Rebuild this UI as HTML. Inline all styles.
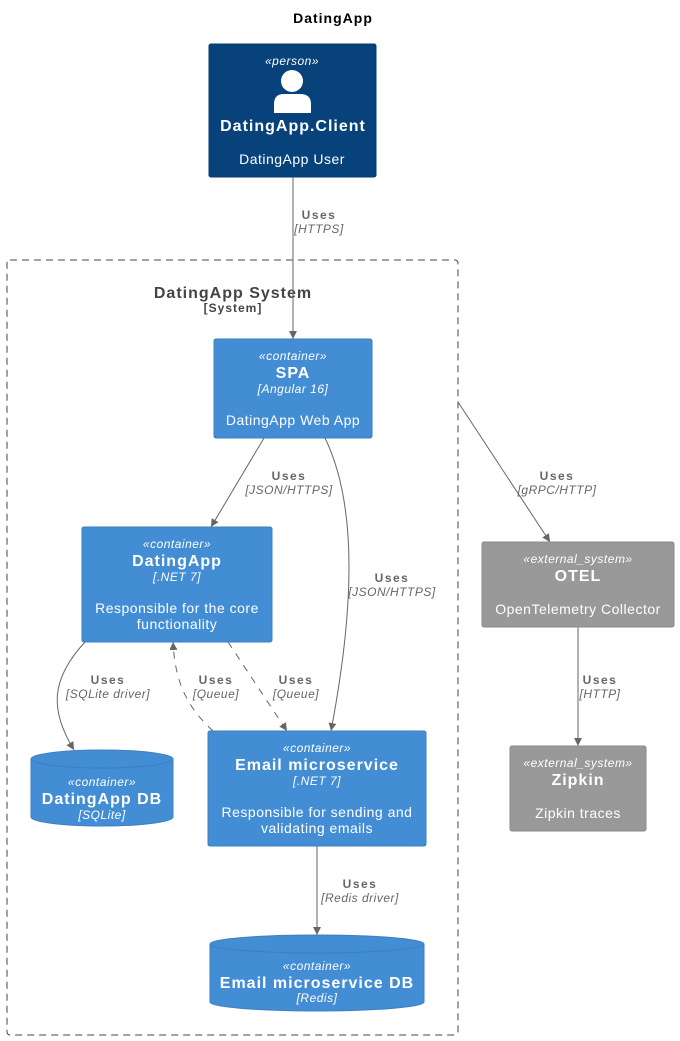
<!DOCTYPE html>
<html><head><meta charset="utf-8"><style>
html,body{margin:0;padding:0;background:#fff;width:680px;height:1041px;overflow:hidden}
svg{display:block}
text{font-family:"Liberation Sans",sans-serif;text-anchor:middle;letter-spacing:0.5px}
.w{fill:#fff}
.st{font-size:12px;font-style:italic}
.nm{font-size:16px;font-weight:bold;letter-spacing:1px}
.ds{font-size:14px}
.lb{font-size:12px;font-weight:bold;fill:#666;letter-spacing:1.5px}
.lt{font-size:12px;font-style:italic;fill:#666}
.e{stroke:#666;stroke-width:1;fill:none}
.d{stroke-dasharray:7,7}
</style></head><body>
<svg width="680" height="1041" viewBox="0 0 680 1041">
<defs><marker id="a" viewBox="0 0 10 10" refX="10" refY="5" markerWidth="8" markerHeight="10" orient="auto" markerUnits="userSpaceOnUse"><path d="M0,0 L10,5 L0,10 z" fill="#666"/></marker></defs>
<text x="333" y="23" style="font-size:14px;font-weight:bold;letter-spacing:1px">DatingApp</text>

<rect x="7" y="260" width="451" height="775" rx="3" fill="none" stroke="#444" stroke-dasharray="7,5"/>
<text x="233" y="298" style="font-size:16px;font-weight:bold;fill:#444;letter-spacing:1px">DatingApp System</text>
<text x="233" y="312" style="font-size:12px;font-weight:bold;fill:#444;letter-spacing:1px">[System]</text>

<!-- edges -->
<path class="e" d="M293,177 L293,339" marker-end="url(#a)"/>
<text class="lb" x="319" y="219">Uses</text><text class="lt" x="319" y="233">[HTTPS]</text>
<path class="e" d="M264,438 L211,527" marker-end="url(#a)"/>
<text class="lb" x="289" y="480">Uses</text><text class="lt" x="289" y="494">[JSON/HTTPS]</text>
<path class="e" d="M325,438 C360,510 352,620 331,731" marker-end="url(#a)"/>
<text class="lb" x="392" y="582">Uses</text><text class="lt" x="392" y="596">[JSON/HTTPS]</text>
<path class="e" d="M458,402 L550,542" marker-end="url(#a)"/>
<text class="lb" x="557" y="480">Uses</text><text class="lt" x="557" y="494">[gRPC/HTTP]</text>
<path class="e" d="M578,627 L578,746" marker-end="url(#a)"/>
<text class="lb" x="600" y="684">Uses</text><text class="lt" x="600" y="698">[HTTP]</text>
<path class="e" d="M85,642 C50,680 50,710 74,750" marker-end="url(#a)"/>
<text class="lb" x="108" y="684">Uses</text><text class="lt" x="108" y="698">[SQLite driver]</text>
<path class="e d" d="M213,731 C185,705 175,680 173,642" marker-end="url(#a)"/>
<text class="lb" x="216" y="684">Uses</text><text class="lt" x="216" y="698">[Queue]</text>
<path class="e d" d="M228,642 L287,731" marker-end="url(#a)"/>
<text class="lb" x="296" y="684">Uses</text><text class="lt" x="296" y="698">[Queue]</text>
<path class="e" d="M317,846 L317,935" marker-end="url(#a)"/>
<text class="lb" x="360" y="888">Uses</text><text class="lt" x="360" y="902">[Redis driver]</text>

<!-- person -->
<rect x="209" y="44" width="167" height="133" rx="2" fill="#08427b" stroke="#073b6f"/>
<text class="w st" x="292" y="65">«person»</text>
<circle cx="292" cy="81" r="11" fill="#fff"/>
<path d="M274,113 L274,104 Q274,94 284,94 L300,94 Q311,94 311,104 L311,113 Z" fill="#fff"/>
<text class="w nm" x="293" y="131">DatingApp.Client</text>
<text class="w ds" x="292" y="164">DatingApp User</text>

<!-- SPA -->
<rect x="214" y="339" width="158" height="99" rx="2" fill="#438dd5" stroke="#3c7fc0"/>
<text class="w st" x="293" y="360">«container»</text>
<text class="w nm" x="293" y="378">SPA</text>
<text class="w st" x="293" y="393">[Angular 16]</text>
<text class="w ds" x="293" y="425">DatingApp Web App</text>

<!-- DatingApp -->
<rect x="82" y="527" width="190" height="115" rx="2" fill="#438dd5" stroke="#3c7fc0"/>
<text class="w st" x="177" y="548">«container»</text>
<text class="w nm" x="177" y="566">DatingApp</text>
<text class="w st" x="177" y="581">[.NET 7]</text>
<text class="w ds" x="177" y="613">Responsible for the core</text>
<text class="w ds" x="177" y="629">functionality</text>

<!-- DatingApp DB -->
<path d="M31,759 A71,9 0 0 1 173,759 L173,817 A71,9 0 0 1 31,817 Z" fill="#438dd5" stroke="#3c7fc0"/>
<path d="M31,759 A71,9 0 0 0 173,759" fill="none" stroke="#3c7fc0"/>
<text class="w st" x="102" y="786">«container»</text>
<text class="w nm" x="102" y="804">DatingApp DB</text>
<text class="w st" x="102" y="819">[SQLite]</text>

<!-- Email ms -->
<rect x="208" y="731" width="218" height="115" rx="2" fill="#438dd5" stroke="#3c7fc0"/>
<text class="w st" x="317" y="752">«container»</text>
<text class="w nm" x="317" y="770">Email microservice</text>
<text class="w st" x="317" y="785">[.NET 7]</text>
<text class="w ds" x="317" y="817">Responsible for sending and</text>
<text class="w ds" x="317" y="833">validating emails</text>

<!-- Email DB -->
<path d="M210,944 A107,9 0 0 1 424,944 L424,1002 A107,9 0 0 1 210,1002 Z" fill="#438dd5" stroke="#3c7fc0"/>
<path d="M210,944 A107,9 0 0 0 424,944" fill="none" stroke="#3c7fc0"/>
<text class="w st" x="317" y="970">«container»</text>
<text class="w nm" x="317" y="988">Email microservice DB</text>
<text class="w st" x="317" y="1002">[Redis]</text>

<!-- OTEL -->
<rect x="482" y="542" width="192" height="85" rx="2" fill="#999" stroke="#8a8a8a"/>
<text class="w st" x="578" y="563">«external_system»</text>
<text class="w nm" x="578" y="581">OTEL</text>
<text class="w ds" x="578" y="614">OpenTelemetry Collector</text>

<!-- Zipkin -->
<rect x="510" y="746" width="136" height="85" rx="2" fill="#999" stroke="#8a8a8a"/>
<text class="w st" x="578" y="767">«external_system»</text>
<text class="w nm" x="578" y="785">Zipkin</text>
<text class="w ds" x="578" y="818">Zipkin traces</text>
</svg>
</body></html>
